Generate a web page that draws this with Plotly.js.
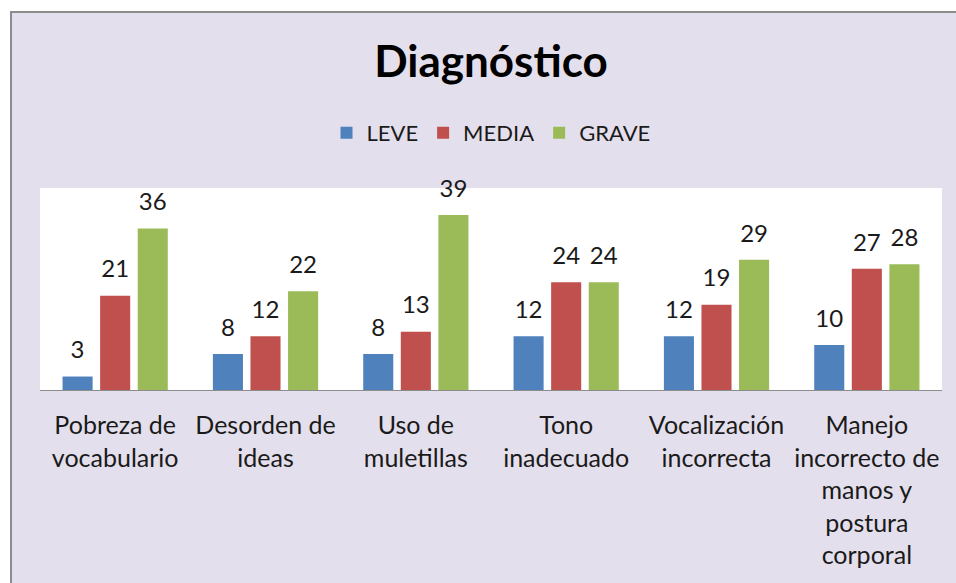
<!DOCTYPE html>
<html><head><meta charset="utf-8">
<script src="https://cdn.plot.ly/plotly-3.0.1.min.js"></script>
<style>
html,body{margin:0;padding:0;background:#ffffff;}
#wrap{position:absolute;left:10px;top:11px;width:944px;height:570px;border-left:2px solid #8c8c8c;border-top:2px solid #8c8c8c;}
#chart{width:944px;height:570px;}
</style></head>
<body><div id="wrap"><div id="chart"></div></div>
<script>
const categories = ["Pobreza de<br>vocabulario","Desorden de<br>ideas","Uso de<br>muletillas","Tono<br>inadecuado","Vocalización<br>incorrecta","Manejo<br>incorrecto de<br>manos y<br>postura<br>corporal"];
const seriesNames = ["LEVE","MEDIA","GRAVE"];
const leve  = [3, 8, 8, 12, 12, 10];
const media = [21, 12, 13, 24, 19, 27];
const grave = [36, 22, 39, 24, 29, 28];
const colors = ["#4F81BD","#C0504D","#9BBB59"];
const values = [leve, media, grave];
const FONT = "Lato, 'Open Sans', sans-serif";

const traces = [];
values.forEach((v,i)=>{
  traces.push({type:'bar', name:seriesNames[i], x:categories, y:v,
    marker:{color:colors[i]}, offsetgroup:String(i), hoverinfo:'skip'});
});
values.forEach((v,i)=>{
  traces.push({type:'scatter', mode:'markers+text', x:categories, y:v,
    text:v.map(String), textposition:'top center',
    textfont:{family:FONT, size:24, color:'#1a1a1a'},
    marker:{size:18, opacity:0, color:colors[i]},
    offsetgroup:String(i), showlegend:false, hoverinfo:'skip', cliponaxis:false});
});

const layout = {
  width:944, height:570,
  paper_bgcolor:'#E4DFEC', plot_bgcolor:'#FFFFFF',
  margin:{l:28, r:14, t:175, b:193},
  font:{family:FONT, size:24, color:'#1a1a1a'},
  title:{text:'<b>Diagnóstico</b>', font:{family:FONT, size:44, color:'#000'},
         x:0.5, xref:'paper', y:0.914, yref:'container', yanchor:'middle'},
  barmode:'group', bargap:0.25, bargroupgap:0.2,
  scattermode:'group', scattergap:0.25,
  showlegend:true,
  legend:{orientation:'h', x:0.5, xanchor:'center', y:1.272, yanchor:'middle',
          font:{family:FONT, size:22, color:'#1a1a1a'}, bgcolor:'rgba(0,0,0,0)', traceorder:'normal'},
  xaxis:{type:'category', showline:true, linecolor:'#8c8c8c', linewidth:1,
         ticks:'', showgrid:false, zeroline:false, ticklabelstandoff:13,
         tickfont:{family:FONT, size:25, color:'#1a1a1a'}, fixedrange:true},
  yaxis:{range:[0,45], visible:false, showgrid:false, zeroline:false, fixedrange:true}
};
Plotly.newPlot('chart', traces, layout, {displayModeBar:false, staticPlot:true});
</script></body></html>
